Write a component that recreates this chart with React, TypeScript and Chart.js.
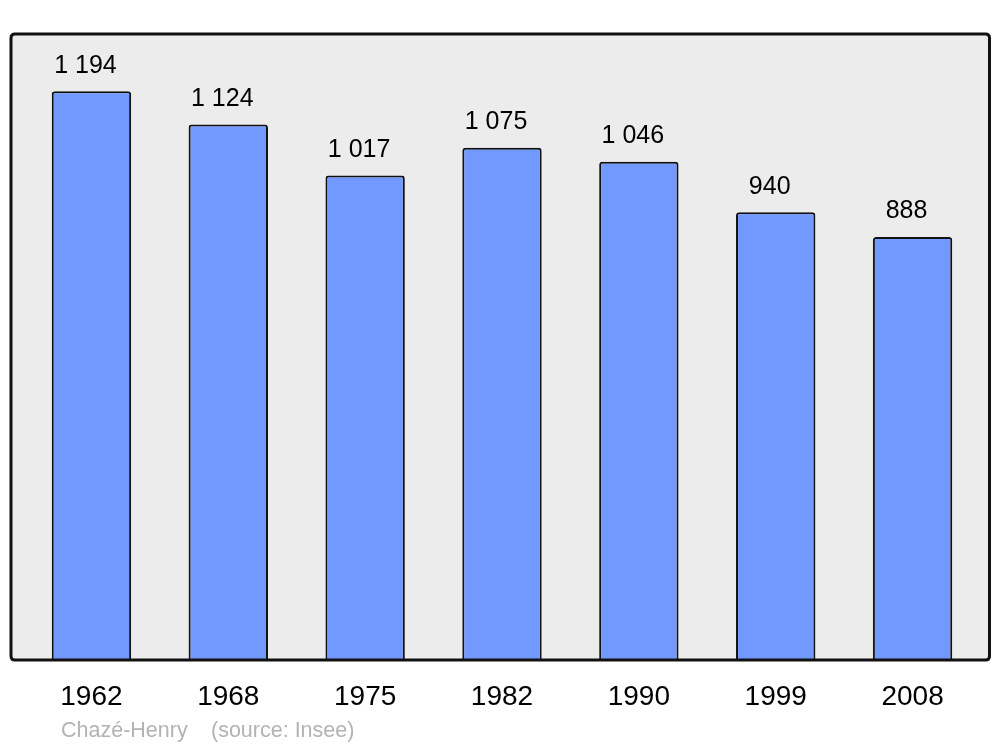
import React, { useEffect, useRef } from "react";
import { Chart, registerables } from "chart.js";

Chart.register(...registerables);

const years = ["1962", "1968", "1975", "1982", "1990", "1999", "2008"];
const population = [1194, 1124, 1017, 1075, 1046, 940, 888];
const footerName = "Chazé-Henry";
const footerSource = "(source: Insee)";

const FONT = "'Liberation Sans', Arial, sans-serif";

function fmt(n: number): string {
  if (n >= 1000) {
    const th = Math.floor(n / 1000);
    const rest = String(n % 1000).padStart(3, "0");
    return th + " " + rest;
  }
  return String(n);
}

function roundRectPath(ctx: CanvasRenderingContext2D, x: number, y: number, w: number, h: number, r: number) {
  ctx.beginPath();
  ctx.moveTo(x + r, y);
  ctx.lineTo(x + w - r, y);
  ctx.quadraticCurveTo(x + w, y, x + w, y + r);
  ctx.lineTo(x + w, y + h - r);
  ctx.quadraticCurveTo(x + w, y + h, x + w - r, y + h);
  ctx.lineTo(x + r, y + h);
  ctx.quadraticCurveTo(x, y + h, x, y + h - r);
  ctx.lineTo(x, y + r);
  ctx.quadraticCurveTo(x, y, x + r, y);
  ctx.closePath();
}

const framePlugin = {
  id: "frame",
  beforeDraw(chart: any) {
    const { ctx, chartArea } = chart;
    ctx.save();
    ctx.fillStyle = "#ffffff";
    ctx.fillRect(0, 0, chart.width, chart.height);
    const x = chartArea.left - 12;
    const y = chartArea.top;
    const w = chartArea.right + 8.5 - x;
    const h = chartArea.bottom - y;
    roundRectPath(ctx, x, y, w, h, 4);
    ctx.fillStyle = "#ececec";
    ctx.fill();
    ctx.restore();
  },
  afterDatasetsDraw(chart: any) {
    const { ctx, chartArea } = chart;
    ctx.save();
    const x = chartArea.left - 12;
    const y = chartArea.top;
    const w = chartArea.right + 8.5 - x;
    const h = chartArea.bottom - y;
    roundRectPath(ctx, x, y, w, h, 4);
    ctx.lineWidth = 3;
    ctx.strokeStyle = "#111111";
    ctx.stroke();

    // value labels
    const meta = chart.getDatasetMeta(0);
    ctx.fillStyle = "#000000";
    ctx.font = "25px " + FONT;
    ctx.textAlign = "center";
    ctx.textBaseline = "middle";
    meta.data.forEach((bar: any, i: number) => {
      ctx.fillText(fmt(population[i]), bar.x - 6, bar.y - 25.5);
    });

    // footer
    ctx.fillStyle = "#b3b3b3";
    ctx.font = "21.5px " + FONT;
    ctx.textAlign = "left";
    ctx.fillText(footerName, x + 50, 731);
    ctx.fillText(footerSource, x + 200, 731);
    ctx.restore();
  },
};

export default function App() {
  const ref = useRef<HTMLCanvasElement | null>(null);
  useEffect(() => {
    document.body.style.margin = "0";
    if (!ref.current) return;
    const chart = new Chart(ref.current, {
      type: "bar",
      data: {
        labels: years,
        datasets: [
          {
            data: population,
            backgroundColor: "#7299ff",
            borderColor: "#111111",
            borderWidth: 2,
            borderSkipped: "bottom",
            borderRadius: { topLeft: 3, topRight: 3, bottomLeft: 0, bottomRight: 0 },
            barPercentage: 0.58,
            categoryPercentage: 1,
          },
        ],
      },
      options: {
        animation: false,
        responsive: false,
        maintainAspectRatio: false,
        layout: { padding: { left: 23, right: 19, top: 34, bottom: 0 } },
        plugins: {
          legend: { display: false },
          tooltip: { enabled: false },
          title: { display: false },
        },
        scales: {
          x: {
            type: "category",
            offset: true,
            grid: { display: false, drawTicks: false },
            border: { display: false },
            ticks: {
              color: "#000000",
              font: { family: FONT, size: 28 },
              padding: 20,
              maxRotation: 0,
            },
            afterFit: (scale: any) => {
              scale.height = 87;
            },
          },
          y: {
            display: false,
            min: 0,
            max: 1314,
          },
        },
      },
      plugins: [framePlugin],
    });
    return () => chart.destroy();
  }, []);
  return (
    <div style={{ position: "absolute", left: 0, top: 0, width: 1000, height: 747 }}>
      <canvas ref={ref} width={1000} height={747} style={{ width: 1000, height: 747 }} />
    </div>
  );
}
